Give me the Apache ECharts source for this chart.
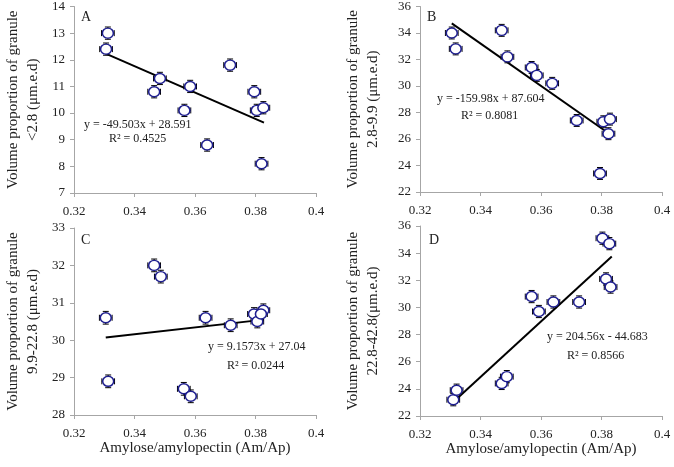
<!DOCTYPE html>
<html>
<head>
<meta charset="utf-8">
<script src="https://cdn.jsdelivr.net/npm/echarts@6/dist/echarts.min.js"></script>
<style>
html,body{margin:0;padding:0;background:#fff;}
#chart{width:674px;height:467px;}
</style>
</head>
<body>
<div id="chart"></div>
<script>
// ---- data ----
const panelLetters = ['A', 'B', 'C', 'D'];
const yTitles = [
  'Volume proportion of granule\n<2.8 (μm.e.d)',
  'Volume proportion of granule\n2.8-9.9 (μm.e.d)',
  'Volume proportion of granule\n9.9-22.8 (μm.e.d)',
  'Volume proportion of granule\n22.8-42.8(μm.e.d)'
];
const xTitle = 'Amylose/amylopectin (Am/Ap)';
const xTicks = [0.32, 0.34, 0.36, 0.38, 0.4];

const xA = [0.3312, 0.3306, 0.3484, 0.3465, 0.3584, 0.3565, 0.3640, 0.3716, 0.3796, 0.3804, 0.3826, 0.3820];
const yA = [13.0, 12.4, 11.3, 10.8, 11.0, 10.1, 8.8, 11.8, 10.8, 10.1, 10.2, 8.1];
const xB = [0.3305, 0.3318, 0.3470, 0.3489, 0.3569, 0.3586, 0.3637, 0.3718, 0.3806, 0.3828, 0.3823, 0.3795];
const yB = [34.0, 32.8, 34.2, 32.2, 31.4, 30.8, 30.2, 27.4, 27.3, 27.5, 26.4, 23.4];
const xC = [0.3305, 0.3313, 0.3465, 0.3487, 0.3563, 0.3586, 0.3635, 0.3718, 0.3795, 0.3806, 0.3826, 0.3818];
const yC = [30.6, 28.9, 32.0, 31.7, 28.7, 28.5, 30.6, 30.4, 30.7, 30.5, 30.8, 30.7];
const xD = [0.3310, 0.3321, 0.3470, 0.3487, 0.3569, 0.3593, 0.3641, 0.3726, 0.3803, 0.3826, 0.3815, 0.3830];
const yD = [23.2, 23.9, 24.4, 24.9, 30.8, 29.7, 30.4, 30.4, 35.1, 34.7, 32.1, 31.5];

const xErr = [0.0021, 0.0021, 0.0021, 0.0021];
const yErr = [0.23, 0.45, 0.17, 0.45];

// trend line end points (from the fitted equations)
const fitA = [[0.3305, 12.23], [0.3828, 9.64]];
const fitB = [[0.3305, 34.73], [0.3828, 26.36]];
const fitC = [[0.3305, 30.07], [0.3828, 30.55]];
const fitD = [[0.3310, 23.03], [0.3834, 33.75]];

const eqTexts = ['y = -49.503x + 28.591', 'y = -159.98x + 87.604', 'y = 9.1573x + 27.04', 'y = 204.56x - 44.683'];
const r2Texts = ['R² = 0.4525', 'R² = 0.8081', 'R² = 0.0244', 'R² = 0.8566'];

const yRanges = [[7, 14, 1], [22, 36, 2], [28, 33, 1], [22, 36, 2]];

// ---- layout ----
const FONT = '"Liberation Serif", "Times New Roman", serif';
const grids = [
  {left: 74, top: 6, width: 242, height: 187},
  {left: 420, top: 6, width: 242, height: 186},
  {left: 74, top: 228, width: 242, height: 187},
  {left: 420, top: 226, width: 242, height: 190}
];
const yNameGaps = [31, 37, 31, 37];
const xs = [xA, xB, xC, xD], ys = [yA, yB, yC, yD], fits = [fitA, fitB, fitC, fitD];
const eqPos = [[84, 119, 109, 133], [437, 93, 461, 110], [208, 341, 227, 360], [547, 331, 567, 350]];
const letterPos = [[81, 10], [427, 10], [81, 233], [429, 233]];

const axisGray = '#a6a6a6';
const xAxes = [], yAxes = [], series = [], graphics = [];
for (let i = 0; i < 4; i++) {
  xAxes.push({
    gridIndex: i, type: 'value', min: 0.32, max: 0.4, interval: 0.02,
    axisLine: {show: true, lineStyle: {color: axisGray, width: 1}},
    axisTick: {show: true, length: 4, lineStyle: {color: axisGray}},
    splitLine: {show: false},
    axisLabel: {fontFamily: FONT, fontSize: 13, color: '#222', margin: 12,
      formatter: v => String(+v.toFixed(2))},
    name: i >= 2 ? xTitle : '', nameLocation: 'middle', nameGap: 25,
    nameTextStyle: {fontFamily: FONT, fontSize: 15, color: '#222'}
  });
  yAxes.push({
    gridIndex: i, type: 'value', min: yRanges[i][0], max: yRanges[i][1], interval: yRanges[i][2],
    axisLine: {show: true, lineStyle: {color: axisGray, width: 1}},
    axisTick: {show: true, length: 4, lineStyle: {color: axisGray}},
    splitLine: {show: false},
    axisLabel: {fontFamily: FONT, fontSize: 13, color: '#222', margin: 9},
    name: yTitles[i], nameLocation: 'middle', nameGap: yNameGaps[i], nameRotate: 90,
    nameTextStyle: {fontFamily: FONT, fontSize: 15, color: '#222', lineHeight: 20}
  });
  const pts = xs[i].map((x, k) => [x, ys[i][k]]);
  const errPts = xs[i].map((x, k) => [x, ys[i][k], xErr[i], yErr[i]]);
  series.push({
    type: 'custom', xAxisIndex: i, yAxisIndex: i, z: 2, silent: true,
    data: errPts,
    encode: {x: 0, y: 1},
    renderItem: function (params, api) {
      const x = api.value(0), y = api.value(1), ex = api.value(2), ey = api.value(3);
      const l = api.coord([x - ex, y]), r = api.coord([x + ex, y]);
      const t = api.coord([x, y + ey]), b = api.coord([x, y - ey]);
      const cap = 3;
      const st = {stroke: '#000', lineWidth: 1};
      return {type: 'group', children: [
        {type: 'line', shape: {x1: l[0], y1: l[1], x2: r[0], y2: r[1]}, style: st},
        {type: 'line', shape: {x1: l[0], y1: l[1] - cap, x2: l[0], y2: l[1] + cap}, style: st},
        {type: 'line', shape: {x1: r[0], y1: r[1] - cap, x2: r[0], y2: r[1] + cap}, style: st},
        {type: 'line', shape: {x1: t[0], y1: t[1], x2: b[0], y2: b[1]}, style: st},
        {type: 'line', shape: {x1: t[0] - cap, y1: t[1], x2: t[0] + cap, y2: t[1]}, style: st},
        {type: 'line', shape: {x1: b[0] - cap, y1: b[1], x2: b[0] + cap, y2: b[1]}, style: st}
      ]};
    }
  });
  series.push({
    type: 'line', xAxisIndex: i, yAxisIndex: i, z: 3, data: fits[i],
    showSymbol: false, symbol: 'none', silent: true,
    lineStyle: {color: '#000', width: 2}
  });
  series.push({
    type: 'scatter', xAxisIndex: i, yAxisIndex: i, z: 4, data: pts,
    symbol: 'circle', symbolSize: [11, 10], silent: true,
    itemStyle: {color: '#fff', borderColor: '#1f1f8f', borderWidth: 1.5, opacity: 1}
  });
  graphics.push({type: 'text', left: letterPos[i][0], top: letterPos[i][1],
    style: {text: panelLetters[i], font: '14px ' + FONT, fill: '#222'}});
  graphics.push({type: 'text', left: eqPos[i][0], top: eqPos[i][1],
    style: {text: eqTexts[i], font: '12px ' + FONT, fill: '#222'}});
  graphics.push({type: 'text', left: eqPos[i][2], top: eqPos[i][3],
    style: {text: r2Texts[i], font: '12px ' + FONT, fill: '#222'}});
}

const chart = echarts.init(document.getElementById('chart'), null, {renderer: 'canvas'});
chart.setOption({
  animation: false,
  backgroundColor: '#fff',
  grid: grids,
  xAxis: xAxes,
  yAxis: yAxes,
  series: series,
  graphic: graphics
});
</script>
</body>
</html>
